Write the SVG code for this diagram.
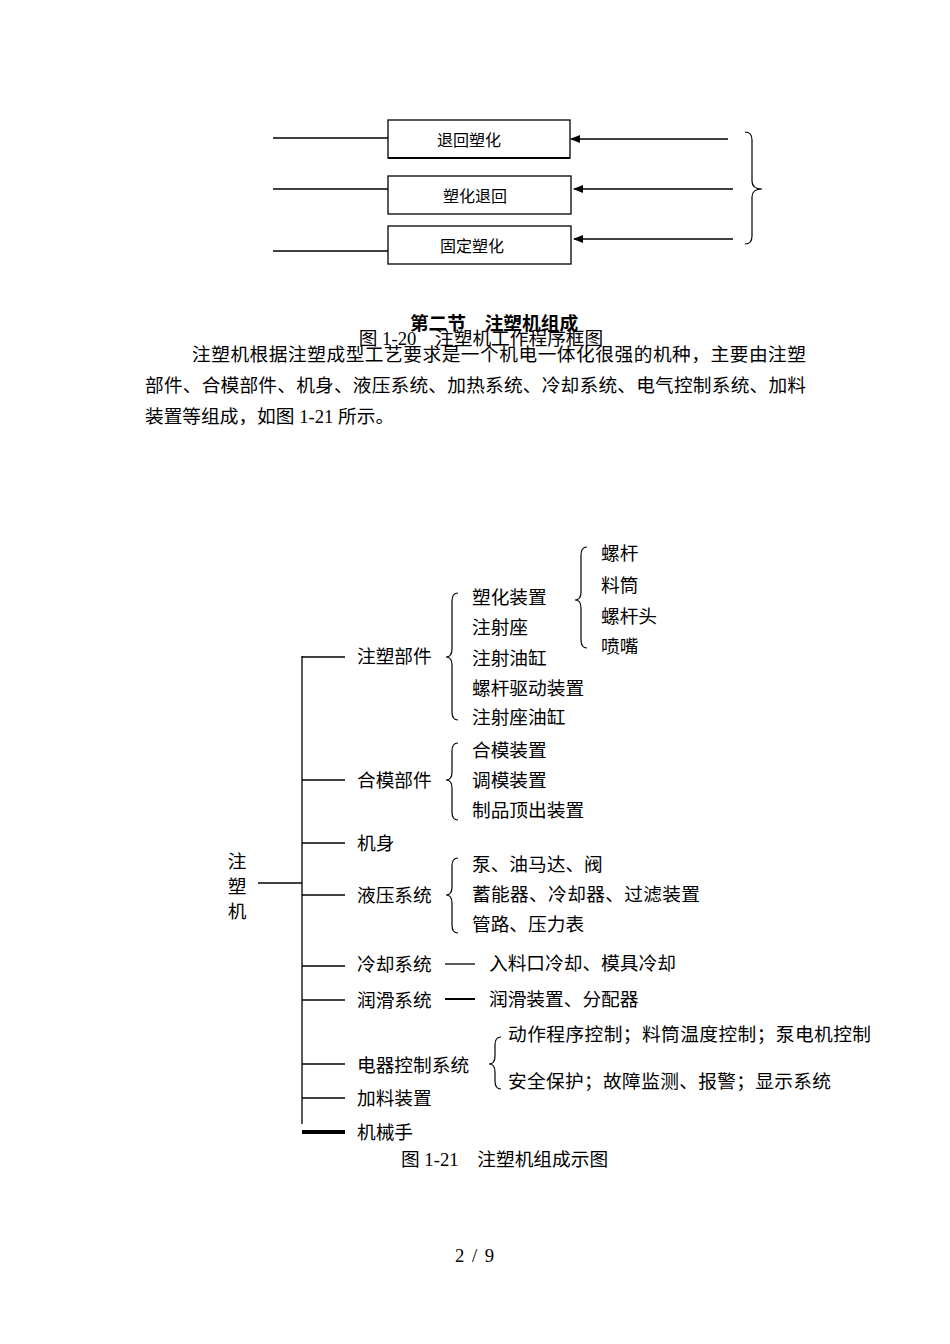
<svg xmlns="http://www.w3.org/2000/svg" width="950" height="1344" viewBox="0 0 950 1344">
<style>
.t{font-family:"Liberation Serif","Noto Sans CJK SC",serif;fill:#000;font-size:18.7px;dominant-baseline:central}
.b{font-size:16px;text-anchor:middle}
.ln{stroke:#000;stroke-width:1.3;fill:none}
.br{stroke:#000;stroke-width:1.2;fill:none}
.box{fill:#fff;stroke:#000;stroke-width:1.3}
</style>
<defs>
<marker id="ah" markerWidth="10" markerHeight="8" refX="9" refY="4" orient="auto" markerUnits="userSpaceOnUse">
<path d="M0,0 L10,4 L0,8 Z" fill="#000"/>
</marker>
</defs>
<rect width="950" height="1344" fill="#fff"/>

<!-- Top flow diagram -->
<g id="connectors-top">
<line class="ln" x1="273" y1="138" x2="388" y2="138" stroke-width="2"/>
<line class="ln" x1="273" y1="189" x2="388" y2="189"/>
<line class="ln" x1="273" y1="251" x2="388" y2="251"/>
<line class="ln" x1="728" y1="139" x2="571" y2="139" marker-end="url(#ah)" stroke-width="1.6"/>
<line class="ln" x1="733" y1="189" x2="574" y2="189" marker-end="url(#ah)" stroke-width="1.6"/>
<line class="ln" x1="733" y1="239" x2="574" y2="239" marker-end="url(#ah)" stroke-width="1.6"/>
<path class="br" d="M745,132 Q752,132 752,140 L752,181 Q752,189 762,189 Q752,189 752,197 L752,236 Q752,244 745,244"/>
</g>
<g id="box1"><rect class="box" x="388" y="120" width="182" height="38"/><line x1="388" y1="158" x2="570" y2="158" stroke="#000" stroke-width="2"/><text class="t b" x="469" y="140">退回塑化</text></g>
<g id="box2"><rect class="box" x="388" y="176" width="183" height="38"/><text class="t b" x="475" y="196">塑化退回</text></g>
<g id="box3"><rect class="box" x="388" y="226" width="183" height="38"/><text class="t b" x="472" y="246">固定塑化</text></g>

<!-- Headings and paragraph -->
<text class="t" x="494" y="323" text-anchor="middle" font-weight="bold">第二节　注塑机组成</text>
<text class="t" x="481" y="338" text-anchor="middle" font-size="17">图 1-20　注塑机工作程序框图</text>
<text class="t" x="192" y="354" textLength="614" lengthAdjust="spacing">注塑机根据注塑成型工艺要求是一个机电一体化很强的机种，主要由注塑</text>
<text class="t" x="145" y="385" textLength="661" lengthAdjust="spacing">部件、合模部件、机身、液压系统、加热系统、冷却系统、电气控制系统、加料</text>
<text class="t" x="145" y="416">装置等组成，如图 1-21 所示。</text>

<!-- Tree connectors -->
<g id="connectors">
<line class="ln" x1="258" y1="883" x2="302" y2="883"/>
<line class="ln" x1="302" y1="656" x2="302" y2="1124"/>
<line class="ln" x1="302" y1="657" x2="345" y2="657"/>
<line class="ln" x1="302" y1="780" x2="345" y2="780"/>
<line class="ln" x1="302" y1="843" x2="345" y2="843"/>
<line class="ln" x1="302" y1="895" x2="345" y2="895"/>
<line class="ln" x1="302" y1="966" x2="345" y2="966"/>
<line class="ln" x1="302" y1="1000" x2="345" y2="1000"/>
<line class="ln" x1="302" y1="1064" x2="345" y2="1064"/>
<line class="ln" x1="302" y1="1098" x2="345" y2="1098"/>
<line x1="302" y1="1132" x2="345" y2="1132" stroke="#000" stroke-width="4"/>
<line class="ln" x1="445" y1="964" x2="475" y2="964"/>
<line x1="445" y1="999" x2="475" y2="999" stroke="#000" stroke-width="2"/>
<!-- braces -->
<path class="br" d="M458,593 Q452,593 452,601 L452,649 Q452,657 446,657 Q452,657 452,665 L452,712 Q452,720 458,720"/>
<path class="br" d="M587,547 Q581,547 581,555 L581,592 Q581,600 575,600 Q581,600 581,608 L581,640 Q581,648 587,648"/>
<path class="br" d="M458,743 Q452,743 452,751 L452,772 Q452,780 446,780 Q452,780 452,788 L452,812 Q452,820 458,820"/>
<path class="br" d="M458,858 Q452,858 452,866 L452,887 Q452,895 446,895 Q452,895 452,903 L452,925 Q452,933 458,933"/>
<path class="br" d="M501,1037 Q495,1037 495,1045 L495,1056 Q495,1064 489,1064 Q495,1064 495,1072 L495,1081 Q495,1089 501,1089"/>
</g>

<g id="root"><text class="t" x="237" y="861" text-anchor="middle">注</text><text class="t" x="237" y="886" text-anchor="middle">塑</text><text class="t" x="237" y="911" text-anchor="middle">机</text></g>

<g id="n-zhusu"><text class="t" x="357" y="656">注塑部件</text>
<text class="t" x="472" y="597">塑化装置</text><text class="t" x="472" y="627">注射座</text><text class="t" x="472" y="658">注射油缸</text><text class="t" x="472" y="688">螺杆驱动装置</text><text class="t" x="472" y="717">注射座油缸</text></g>
<g id="n-suhua"><text class="t" x="601" y="553">螺杆</text><text class="t" x="601" y="585">料筒</text><text class="t" x="601" y="616">螺杆头</text><text class="t" x="601" y="646">喷嘴</text></g>
<g id="n-hemo"><text class="t" x="357" y="780">合模部件</text>
<text class="t" x="472" y="750">合模装置</text><text class="t" x="472" y="780">调模装置</text><text class="t" x="472" y="810">制品顶出装置</text></g>
<g id="n-jishen"><text class="t" x="357" y="843">机身</text></g>
<g id="n-yeya"><text class="t" x="357" y="895">液压系统</text>
<text class="t" x="472" y="864">泵、油马达、阀</text><text class="t" x="472" y="894" textLength="228" lengthAdjust="spacing">蓄能器、冷却器、过滤装置</text><text class="t" x="472" y="924">管路、压力表</text></g>
<g id="n-lengque"><text class="t" x="357" y="964">冷却系统</text><text class="t" x="489" y="963">入料口冷却、模具冷却</text></g>
<g id="n-runhua"><text class="t" x="357" y="1000">润滑系统</text><text class="t" x="489" y="999">润滑装置、分配器</text></g>
<g id="n-dianqi"><text class="t" x="357" y="1065">电器控制系统</text>
<text class="t" x="508" y="1034" textLength="363" lengthAdjust="spacing">动作程序控制；料筒温度控制；泵电机控制</text><text class="t" x="508" y="1081" textLength="323" lengthAdjust="spacing">安全保护；故障监测、报警；显示系统</text></g>
<g id="n-jialiao"><text class="t" x="357" y="1098">加料装置</text></g>
<g id="n-jixie"><text class="t" x="357" y="1132">机械手</text></g>

<text class="t" x="401" y="1159">图 1-21　注塑机组成示图</text>
<text class="t" x="455" y="1255" font-size="16" textLength="39" lengthAdjust="spacing">2 / 9</text>
</svg>
